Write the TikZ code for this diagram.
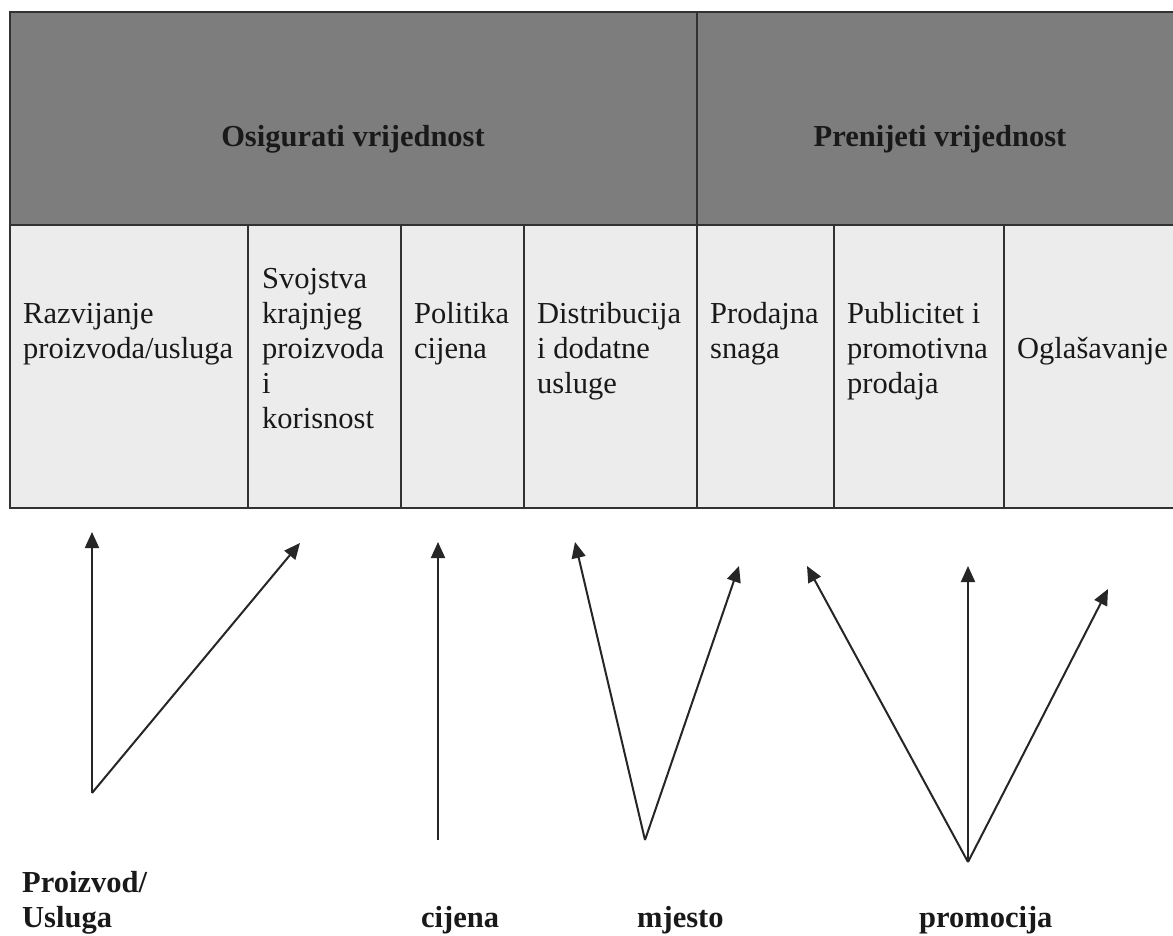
\documentclass[tikz,border=0pt]{standalone}
\usepackage{fontspec}
\setmainfont{Liberation Serif}
\usepackage{xcolor}
\usepackage{tikz}
\usetikzlibrary{arrows.meta,positioning,calc}

\definecolor{headgray}{RGB}{125,125,125}
\definecolor{cellgray}{RGB}{236,236,236}
\definecolor{rulegray}{RGB}{50,50,50}

\begin{document}
\begin{tikzpicture}[x=1pt,y=-1pt,
  rule/.style={draw=rulegray, line width=1.6pt},
  celltext/.style={anchor=base west, inner sep=0pt, align=left, text=black!90,
    font=\fontsize{30.5}{35}\selectfont},
  headtext/.style={anchor=base, inner sep=0pt, text=black!90,
    font=\fontsize{30.5}{35}\selectfont\bfseries},
  pmark/.style={anchor=base west, inner sep=0pt, align=left, text=black!90,
    font=\fontsize{30.5}{35}\selectfont\bfseries},
  pointer/.style={draw=black!85, line width=2pt, -{Triangle[length=16pt,width=14pt]}}]
\clip (0,0) rectangle (1173,936);
\fill[white] (0,0) rectangle (1173,936);
% Table: header row y 12..225, item row y 225..508, right edge runs off the page (1183)
\fill[headgray] (10,12) rectangle (1183,225);
\fill[cellgray] (10,225) rectangle (1183,508);
\draw[rule] (10,12) rectangle (1183,508);
\draw[rule] (10,225) -- (1183,225);
\draw[rule] (697,12) -- (697,508);
\foreach \x in {248,401,524,834,1004}
  \draw[rule] (\x,225) -- (\x,508);
% Header cells
\node[headtext] (osig) at (353,147) {Osigurati vrijednost};
\node[headtext] (pren) at (940,147) {Prenijeti vrijednost};
% Item cells, x = column line + 13, y = baseline of the last line
\node[celltext] (razv) at (23,358) {Razvijanje\\proizvoda/usluga};
\node[celltext] (svoj) at (262,428) {Svojstva\\krajnjeg\\proizvoda\\i\\korisnost};
\node[celltext] (poli) at (414,358) {Politika\\cijena};
\node[celltext] (dist) at (537,393) {Distribucija\\i dodatne\\usluge};
\node[celltext] (prod) at (710,358) {Prodajna\\snaga};
\node[celltext] (publ) at (847,393) {Publicitet i\\promotivna\\prodaja};
\node[celltext] (ogla) at (1017,358) {Oglašavanje};
% Arrow feet and tips
\coordinate (pFoot) at (92,793);
\coordinate (pTipA) at (92,532);
\coordinate (pTipB) at (300,543);
\coordinate (cFoot) at (438,840);
\coordinate (cTip) at (438,542);
\coordinate (mFoot) at (645,840);
\coordinate (mTipA) at (575,542);
\coordinate (mTipB) at (739,566);
\coordinate (rFoot) at (968,862);
\coordinate (rTipA) at (807,566);
\coordinate (rTipB) at (968,566);
\coordinate (rTipC) at (1108,589);
\foreach \from/\to in {pFoot/pTipA, pFoot/pTipB, cFoot/cTip, mFoot/mTipA,
    mFoot/mTipB, rFoot/rTipA, rFoot/rTipB, rFoot/rTipC}
  \draw[pointer] (\from) -- (\to);
% The four Ps
\node[pmark] (proiz) at (22,927) {Proizvod/\\Usluga};
\node[pmark] (cij) at (421,927) {cijena};
\node[pmark] (mje) at (637,927) {mjesto};
\node[pmark] (prom) at (919,927) {promocija};
\end{tikzpicture}
\end{document}
